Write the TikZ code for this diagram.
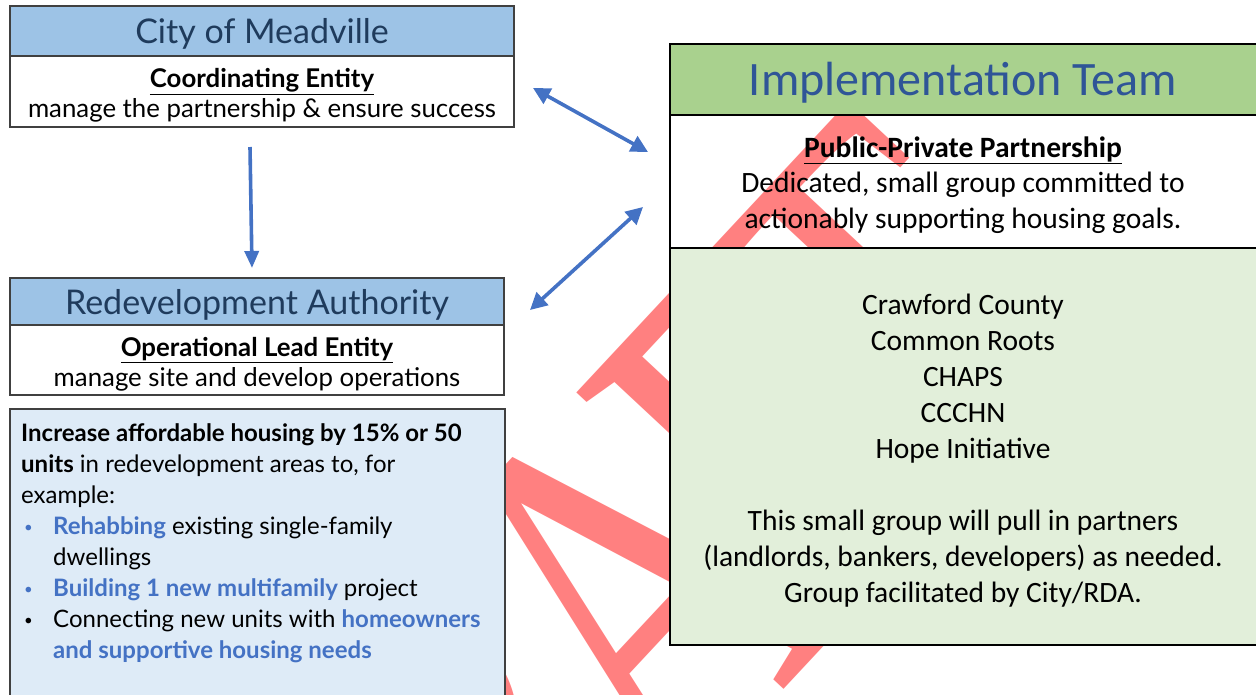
\documentclass[tikz,border=0pt]{standalone}
\usepackage{fontspec}
\setmainfont{Lato}
\newfontfamily\calib{Carlito}
\newfontfamily\wmfont{Liberation Serif}
\usetikzlibrary{arrows.meta}
\definecolor{hdrblue}{HTML}{9DC3E6}
\definecolor{hdrtext}{HTML}{1F3B5C}
\definecolor{paleblue}{HTML}{DEEBF7}
\definecolor{linkblue}{HTML}{4472C4}
\definecolor{teamgreen}{HTML}{A9D18E}
\definecolor{palegreen}{HTML}{E2EFDA}
\definecolor{teamblue}{HTML}{2F5597}
\definecolor{wmred}{HTML}{FF8080}
\newcommand{\bulletmark}[1][black]{\makebox[32pt][l]{\hspace{3pt}\raisebox{1.5pt}{\fontsize{15}{15}\selectfont\textcolor{#1}{•}}}}
\tikzset{
  leftbox/.style={draw=black!75, line width=1.3pt, inner sep=0pt},
  head/.style={leftbox, fill=hdrblue},
  headtext/.style={inner sep=0pt, text=hdrtext, font=\fontsize{34}{38}\selectfont},
  body/.style={leftbox, fill=white},
  bodytext/.style={inner sep=0pt, align=center, font=\fontsize{25.8}{30}\selectfont},
  teambox/.style={draw=black, line width=2.4pt, inner sep=0pt, minimum width=588},
  teamtext/.style={inner sep=0pt, align=center, font=\calib\fontsize{29.5}{35.5}\selectfont},
  link/.style={line width=3.6pt, linkblue},
  wmark/.style={text=wmred, rotate=47, yscale=1.35, inner sep=0pt, font=\wmfont\fontsize{400}{400}\selectfont},
}
\begin{document}
\begin{tikzpicture}[x=1pt,y=-1pt]
  \useasboundingbox (0,0) rectangle (1256,694);
  \clip (0,0) rectangle (1256,694);

  % watermark
  \node[wmark] (draft) at (603,623) {D\kern-50pt R\kern-50pt A\kern-50pt F\kern-50pt T};

  % left column
  \node[head, minimum width=504, minimum height=50] (cityhead) at (262,31) {};
  \node[headtext] (citytitle) at (262,34) {City of Meadville};
  \node[body, minimum width=504, minimum height=71] (citybody) at (262,91.5) {};
  \node[bodytext] (cityrole) at (262,95.5)
    {\underline{\textbf{Coordinating Entity}}\\manage the partnership \& ensure success};

  \node[head, minimum width=494, minimum height=47] (rdahead) at (257,301.5) {};
  \node[headtext] (rdatitle) at (257,304.5) {Redevelopment Authority};
  \node[body, minimum width=494, minimum height=70] (rdabody) at (257,360) {};
  \node[bodytext] (rdarole) at (257,364.5)
    {\underline{\textbf{Operational Lead Entity}}\\manage site and develop operations};

  \node[leftbox, fill=paleblue, minimum width=495, minimum height=300] (goals) at (257.5,559) {};
  \node[anchor=north west, inner sep=0pt, align=left, font=\fontsize{24}{31}\selectfont] (goaltext) at (21,423)
    {\textbf{Increase affordable housing by 15\% or 50}\\
     \textbf{units} in redevelopment areas to, for\\
     example:\\
     \bulletmark[linkblue]\textcolor{linkblue}{\textbf{Rehabbing}} existing single-family\\
     \makebox[32pt]{}dwellings\\
     \bulletmark[linkblue]\textcolor{linkblue}{\textbf{Building 1 new multifamily}} project\\
     \bulletmark Connecting new units with \textcolor{linkblue}{\textbf{homeowners}}\\
     \makebox[32pt]{}\textcolor{linkblue}{\textbf{and supportive housing needs}}};

  % implementation team
  \node[teambox, fill=teamgreen, minimum height=71] (teamhead) at (964,79.5) {};
  \node[teamtext, text=teamblue, font=\calib\fontsize{48}{52}\selectfont] (teamtitle) at (963,82.5) {Implementation Team};
  \node[teambox, minimum height=133] (teammid) at (964,181.5) {};
  \node[teamtext] (teamrole) at (963,185)
    {\underline{\textbf{Public-Private Partnership}}\\Dedicated, small group committed to\\actionably supporting housing goals.};
  \node[teambox, fill=palegreen, minimum height=397] (members) at (964,446.5) {};
  \node[teamtext, font=\calib\fontsize{29.5}{36}\selectfont] (memberlist) at (963,450.5)
    {Crawford County\\Common Roots\\CHAPS\\CCCHN\\Hope Initiative\\\mbox{}\\This small group will pull in partners\\(landlords, bankers, developers) as needed.\\Group facilitated by City/RDA.};

  % connectors
  \coordinate (a1) at (533,88);
  \coordinate (a2) at (648,152);
  \coordinate (a3) at (530,310);
  \coordinate (a4) at (643,207);
  \coordinate (a5) at (250,147);
  \coordinate (a6) at (252,268);

  \draw[link, -{Triangle[length=17pt,width=14pt]}] (a5) -- (a6);
  \draw[link, {Triangle[length=17pt,width=17pt]}-{Triangle[length=17pt,width=17pt]}] (a1) -- (a2);
  \draw[link, {Triangle[length=17pt,width=17pt]}-{Triangle[length=17pt,width=17pt]}] (a3) -- (a4);
\end{tikzpicture}
\end{document}
